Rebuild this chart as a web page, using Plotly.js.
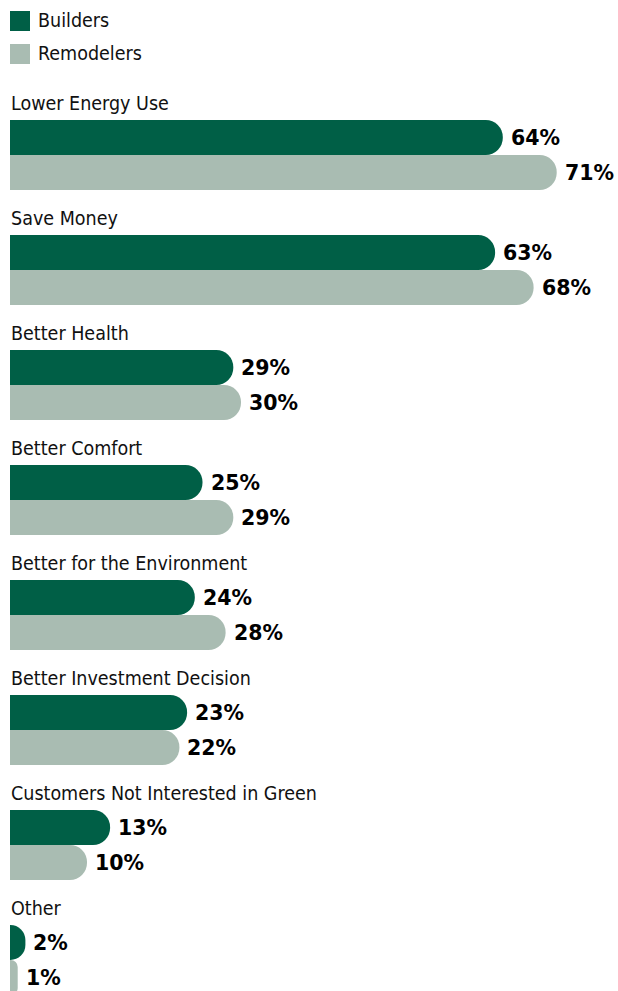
<!DOCTYPE html>
<html>
<head>
<meta charset="utf-8">
<script src="https://cdn.plot.ly/plotly-3.0.1.min.js"></script>
<style>
html,body{margin:0;padding:0;background:#fff;}
#chart{width:618px;height:991px;}
</style>
</head>
<body>
<div id="chart"></div>
<script>
// ---- data ----
const categories = [
  "Lower Energy Use",
  "Save Money",
  "Better Health",
  "Better Comfort",
  "Better for the Environment",
  "Better Investment Decision",
  "Customers Not Interested in Green",
  "Other"
];
const builders    = [64, 63, 29, 25, 24, 23, 13, 2];
const remodelers  = [71, 68, 30, 29, 28, 22, 10, 1];
const seriesNames = ["Builders", "Remodelers"];

// ---- styling ----
const W = 618, H = 991;
const colBuild = "#005f46";
const colRemod = "#a9bcb2";
const labelFont = "'DejaVu Sans Condensed', 'Liberation Sans Narrow', 'Roboto', sans-serif";
const valueFont = "'DejaVu Sans', sans-serif";
const ML = 10;
const pitch = 115;        // px per category
const firstCenter = 155;  // px of first category center
const barPx = 35;

const r0 = -firstCenter / pitch;
const r1 = r0 + H / pitch;
const idx = categories.map((c, i) => i);

const traces = [
  {
    type: "bar", orientation: "h", name: seriesNames[0],
    x: builders, y: idx,
    marker: {color: colBuild, cornerradius: "50%"},
    hoverinfo: "none"
  },
  {
    type: "bar", orientation: "h", name: seriesNames[1],
    x: remodelers, y: idx,
    marker: {color: colRemod, cornerradius: "50%"},
    hoverinfo: "none"
  }
];

const annotations = [];
categories.forEach((c, i) => {
  annotations.push({
    xref: "paper", yref: "y", x: 0, y: i, xanchor: "left", yanchor: "middle",
    xshift: -1, yshift: firstCenter - 103, text: c, showarrow: false,
    font: {family: labelFont, size: 19.5, color: "#111"}
  });
  annotations.push({
    xref: "x", yref: "y", x: builders[i], y: i, xanchor: "left", yanchor: "middle",
    xshift: 6, yshift: barPx / 2, text: builders[i] + "%", showarrow: false,
    font: {family: valueFont, size: 20.5, weight: "bold", color: "#000"}
  });
  annotations.push({
    xref: "x", yref: "y", x: remodelers[i], y: i, xanchor: "left", yanchor: "middle",
    xshift: 6, yshift: -barPx / 2, text: remodelers[i] + "%", showarrow: false,
    font: {family: valueFont, size: 20.5, weight: "bold", color: "#000"}
  });
});

// legend (drawn manually)
const legendRows = [{y0: 11, col: colBuild, name: seriesNames[0]}, {y0: 44, col: colRemod, name: seriesNames[1]}];
const shapes = [];
legendRows.forEach(r => {
  shapes.push({
    type: "rect", xref: "paper", yref: "paper",
    x0: 0, x1: 20 / (W - ML), y0: 1 - (r.y0 + 20) / H, y1: 1 - r.y0 / H,
    fillcolor: r.col, line: {width: 0}
  });
  annotations.push({
    xref: "paper", yref: "paper", x: 26 / (W - ML), y: 1 - (r.y0 + 10) / H,
    xanchor: "left", yanchor: "middle", text: r.name, showarrow: false,
    font: {family: labelFont, size: 19.5, color: "#111"}
  });
});

const layout = {
  width: W, height: H,
  margin: {l: ML, r: 0, t: 0, b: 0, pad: 0},
  paper_bgcolor: "#fff", plot_bgcolor: "#fff",
  barmode: "group",
  bargap: 1 - (2 * barPx) / pitch,
  bargroupgap: 0,
  showlegend: false,
  xaxis: {range: [0, (W - ML) / 7.7], showgrid: false, zeroline: false, showticklabels: false, ticks: "", fixedrange: true},
  yaxis: {type: "linear", range: [r1, r0], showgrid: false, zeroline: false, showticklabels: false, ticks: "", fixedrange: true},
  shapes: shapes,
  annotations: annotations
};

Plotly.newPlot("chart", traces, layout, {displayModeBar: false, staticPlot: true});
</script>
</body>
</html>
